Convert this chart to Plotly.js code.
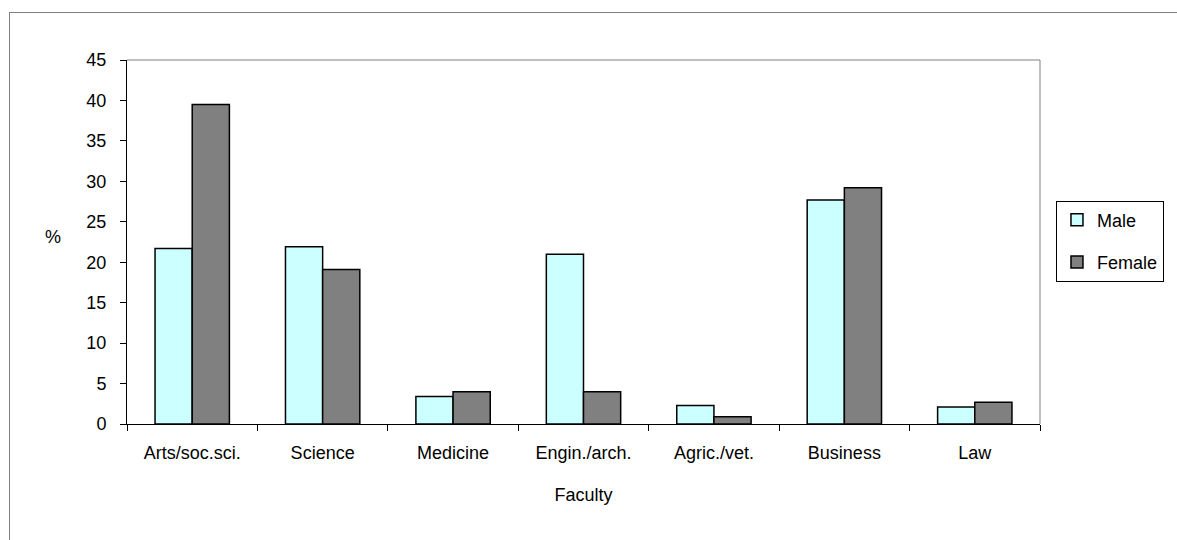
<!DOCTYPE html>
<html>
<head>
<meta charset="utf-8">
<script src="https://cdn.plot.ly/plotly-3.0.1.min.js"></script>
<style>
  html, body { margin: 0; padding: 0; background: #ffffff; }
  #wrap { position: relative; width: 1177px; height: 540px; overflow: hidden; }
  #chart { position: absolute; left: 0; top: 0; width: 1177px; height: 540px; }
  #frame { position: absolute; left: 9px; top: 12px; width: 1300px; height: 700px;
           border-left: 1px solid #808080; border-top: 1px solid #808080; pointer-events: none; }
</style>
</head>
<body>
<div id="wrap">
  <div id="chart"></div>
  <div id="frame"></div>
</div>
<script>
const categories = ["Arts/soc.sci.", "Science", "Medicine", "Engin./arch.", "Agric./vet.", "Business", "Law"];
const maleValues = [21.7, 21.9, 3.4, 21.0, 2.3, 27.7, 2.1];
const femaleValues = [39.5, 19.1, 4.0, 4.0, 0.9, 29.2, 2.7];
const yTicks = [0, 5, 10, 15, 20, 25, 30, 35, 40, 45];

const FONT = {family: "Liberation Sans, Arial, sans-serif", size: 18, color: "#000000"};

const traces = [
  {type: "bar", name: "Male", x: categories, y: maleValues,
   marker: {color: "#CCFFFF", line: {color: "#000000", width: 1.5}}, legendgroup: "m"},
  {type: "bar", name: "Female", x: categories, y: femaleValues,
   marker: {color: "#808080", line: {color: "#000000", width: 1.5}}, legendgroup: "f"}
];

const layout = {
  width: 1177, height: 540,
  margin: {l: 127, r: 137, t: 60, b: 116, pad: 0},
  paper_bgcolor: "rgba(0,0,0,0)", plot_bgcolor: "#ffffff",
  font: FONT,
  barmode: "group", bargap: 0.43, bargroupgap: 0,
  showlegend: true,
  legend: {x: 1.0175, xanchor: "left", y: 0.614, yanchor: "top",
           bgcolor: "#ffffff", bordercolor: "#000000", borderwidth: 1,
           font: FONT, tracegroupgap: 16, traceorder: "grouped",
           itemwidth: 30},
  xaxis: {
    type: "category", showline: true, linecolor: "#000000", linewidth: 1,
    ticks: "outside", tickson: "boundaries", ticklen: 6, tickcolor: "#000000",
    showgrid: false, zeroline: false, mirror: false,
    tickfont: FONT, ticklabelstandoff: 12,
    title: {text: "Faculty", font: FONT, standoff: 26}
  },
  yaxis: {
    range: [0, 45], tickvals: yTicks, showline: true, linecolor: "#000000", linewidth: 1,
    ticks: "outside", ticklen: 6, tickcolor: "#000000", showgrid: false, zeroline: false,
    tickfont: FONT, ticklabelstandoff: 10
  },
  shapes: [
    {type: "line", xref: "paper", yref: "paper", x0: 0, x1: 1, y0: 1, y1: 1, line: {color: "#808080", width: 1}},
    {type: "line", xref: "paper", yref: "paper", x0: 1, x1: 1, y0: 0, y1: 1, line: {color: "#808080", width: 1}}
  ],
  annotations: [
    {text: "%", xref: "paper", yref: "paper", x: -0.081, y: 0.515, showarrow: false,
     xanchor: "center", yanchor: "middle", font: FONT}
  ]
};

Plotly.newPlot("chart", traces, layout, {displayModeBar: false, staticPlot: true});
</script>
</body>
</html>
